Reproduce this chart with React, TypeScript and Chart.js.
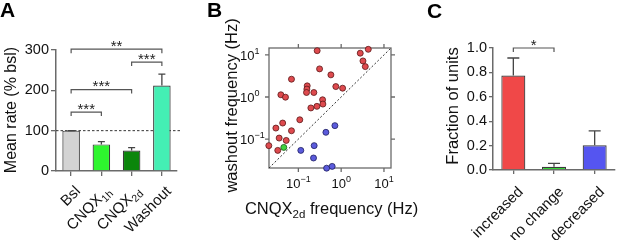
import React, { useEffect, useRef } from 'react';
import { Chart, registerables } from 'chart.js';
Chart.register(...registerables);

const FF = '"Liberation Sans", Arial, Helvetica, sans-serif';
const AXIS = '#6a6a6a';
const TXT = '#111111';

// ---------- Panel A data ----------
const rateLabels = ['Bsl', 'CNQX', 'CNQX', 'Washout'];
const rateLabelSubs = ['', '1h', '2d', ''];
const rateMeans = [100, 66, 51, 212];
const rateErrs = [0, 7, 7, 28];
const rateColors = ['#d3d3d3', '#2ef52e', '#0b860b', '#44efb4'];
const rateTicks = [0, 100, 200, 300];
const sigPairsA = [[0, 1], [0, 2], [2, 3], [0, 3]];
const sigHeightsA = [146, 202, 270, 302];
const sigStarsA = ['***', '***', '***', '**'];
const baselineRate = 100;

// ---------- Panel B data ----------
const redX = [0.275, 2.79, 4.3, 3.23, 3.66, 0.313, 0.575, 0.069, 0.161, 0.158, 0.155, 0.23, 0.75, 1.08, 0.039, 0.05, 0.368, 0.374, 0.271, 0.196, 0.108, 0.043, 0.069, 0.0298, 0.0356, 0.052, 0.0204, 0.033];
const redY = [12.6, 11.0, 13.6, 7.2, 5.28, 4.66, 3.36, 2.65, 1.84, 1.54, 1.28, 1.28, 1.77, 1.62, 1.13, 0.99, 0.86, 0.68, 0.6, 0.55, 0.288, 0.241, 0.158, 0.183, 0.106, 0.093, 0.07, 0.054];
const blueX = [0.714, 0.44, 0.234, 0.114, 0.226, 0.457, 0.616];
const blueY = [0.209, 0.145, 0.07, 0.054, 0.0356, 0.0204, 0.0225];
const greenX = [0.0457];
const greenY = [0.0636];
const freqMin = 0.0206;
const freqMax = 14.6;
const freqTicks = [0.1, 1, 10];
const freqTickExps = ['-1', '0', '1'];

// ---------- Panel C data ----------
const fracLabels = ['increased', 'no change', 'decreased'];
const fracMeans = [0.775, 0.027, 0.203];
const fracErrs = [0.143, 0.028, 0.117];
const fracColors = ['#f04848', '#36d436', '#5555f0'];
const fracTicks = [0, 0.2, 0.4, 0.6, 0.8, 1.0];
const sigPairsC = [[0, 1]];
const sigHeightsC = [1.0];
const sigStarsC = ['*'];

type Part = { t: string; size: number; dy?: number; bold?: boolean };

function setFont(ctx: CanvasRenderingContext2D, p: Part) {
  ctx.font = `${p.bold ? 'bold ' : ''}${p.size}px ${FF}`;
}
function richWidth(ctx: CanvasRenderingContext2D, parts: Part[]) {
  let w = 0;
  for (const p of parts) { setFont(ctx, p); w += ctx.measureText(p.t).width; }
  return w;
}
function drawRich(ctx: CanvasRenderingContext2D, parts: Part[], x: number, y: number, align: 'left' | 'center' | 'right') {
  const w = richWidth(ctx, parts);
  let cx = align === 'left' ? x : align === 'center' ? x - w / 2 : x - w;
  ctx.textAlign = 'left';
  for (const p of parts) {
    setFont(ctx, p);
    ctx.fillText(p.t, cx, y + (p.dy || 0));
    cx += ctx.measureText(p.t).width;
  }
}
function drawRotatedLabel(ctx: CanvasRenderingContext2D, parts: Part[], ax: number, ay: number) {
  ctx.save();
  ctx.translate(ax, ay);
  ctx.rotate(-Math.PI / 4);
  ctx.textBaseline = 'alphabetic';
  ctx.fillStyle = TXT;
  drawRich(ctx, parts, 0, 0, 'right');
  ctx.restore();
}
function drawVTitle(ctx: CanvasRenderingContext2D, text: string, size: number, cx: number, cy: number) {
  ctx.save();
  ctx.translate(cx, cy);
  ctx.rotate(-Math.PI / 2);
  ctx.textAlign = 'center';
  ctx.textBaseline = 'middle';
  ctx.fillStyle = TXT;
  ctx.font = `${size}px ${FF}`;
  ctx.fillText(text, 0, 0);
  ctx.restore();
}
function drawPanelLetter(ctx: CanvasRenderingContext2D, letter: string, x: number, y: number) {
  ctx.save();
  ctx.fillStyle = '#000';
  ctx.textAlign = 'left';
  ctx.textBaseline = 'alphabetic';
  ctx.font = `bold 21px ${FF}`;
  ctx.fillText(letter, x, y);
  ctx.restore();
}
function drawErrorBars(chart: any, means: number[], errs: number[], half: number) {
  const ctx = chart.ctx;
  const meta = chart.getDatasetMeta(0);
  const y = chart.scales.y;
  ctx.save();
  ctx.strokeStyle = '#444';
  ctx.lineWidth = 1.3;
  means.forEach((m, i) => {
    const x = meta.data[i].x;
    const y0 = y.getPixelForValue(m);
    const y1 = y.getPixelForValue(m + errs[i]);
    ctx.beginPath();
    ctx.moveTo(x, y0);
    ctx.lineTo(x, y1);
    ctx.moveTo(x - half, y1);
    ctx.lineTo(x + half, y1);
    ctx.stroke();
  });
  ctx.restore();
}
function drawBrackets(chart: any, pairs: number[][], heights: number[], stars: string[], starDy: number) {
  const ctx = chart.ctx;
  const meta = chart.getDatasetMeta(0);
  const y = chart.scales.y;
  ctx.save();
  ctx.strokeStyle = '#555';
  ctx.lineWidth = 1.2;
  pairs.forEach((p, i) => {
    const x0 = meta.data[p[0]].x;
    const x1 = meta.data[p[1]].x;
    const yy = y.getPixelForValue(heights[i]);
    ctx.beginPath();
    ctx.moveTo(x0, yy + 4);
    ctx.lineTo(x0, yy);
    ctx.lineTo(x1, yy);
    ctx.lineTo(x1, yy + 4);
    ctx.stroke();
    ctx.fillStyle = '#222';
    ctx.textAlign = 'center';
    ctx.textBaseline = 'alphabetic';
    ctx.font = `15px ${FF}`;
    ctx.fillText(stars[i], (x0 + x1) / 2, yy + starDy);
  });
  ctx.restore();
}

const axisGrid = { display: true, drawOnChartArea: false, tickLength: 5, color: AXIS, lineWidth: 1.3 };
const axisBorder = { display: true, color: AXIS, width: 1.5 };

function makeA(canvas: HTMLCanvasElement) {
  const plugin = {
    id: 'panelA',
    beforeDatasetsDraw(chart: any) {
      const ctx = chart.ctx;
      const y = chart.scales.y.getPixelForValue(baselineRate);
      ctx.save();
      ctx.strokeStyle = '#333';
      ctx.lineWidth = 1;
      ctx.setLineDash([2.5, 2]);
      ctx.beginPath();
      ctx.moveTo(chart.chartArea.left, y);
      ctx.lineTo(chart.chartArea.right + 3, y);
      ctx.stroke();
      ctx.restore();
    },
    afterDraw(chart: any) {
      const ctx = chart.ctx;
      drawErrorBars(chart, rateMeans, rateErrs, 3.5);
      drawBrackets(chart, sigPairsA, sigHeightsA, sigStarsA, 1.5);
      const meta = chart.getDatasetMeta(0);
      const bottom = chart.chartArea.bottom;
      rateLabels.forEach((l, i) => {
        const parts: Part[] = [{ t: l, size: 15 }];
        if (rateLabelSubs[i]) parts.push({ t: rateLabelSubs[i], size: 10.5, dy: 3.5 });
        drawRotatedLabel(ctx, parts, meta.data[i].x + 10, bottom + 21);
      });
      drawVTitle(ctx, 'Mean rate (% bsl)', 16, 12, 110);
      drawPanelLetter(ctx, 'A', 0, 17);
    },
  };
  return new Chart(canvas, {
    type: 'bar',
    data: {
      labels: rateLabels.map((l, i) => l + rateLabelSubs[i]),
      datasets: [{ data: rateMeans, backgroundColor: rateColors, borderColor: '#3a3a3a', borderWidth: 1.2, barPercentage: 0.58, categoryPercentage: 1 }],
    },
    options: {
      animation: false, responsive: false, maintainAspectRatio: false,
      layout: { padding: { left: 0, right: 28, top: 50, bottom: 0 } },
      plugins: { legend: { display: false }, tooltip: { enabled: false } },
      scales: {
        x: {
          grid: { ...axisGrid, offset: false }, border: axisBorder, ticks: { display: false },
          afterFit: (s: any) => { s.height = 69; },
        },
        y: {
          min: 0, max: 300,
          afterBuildTicks: (s: any) => { s.ticks = rateTicks.map((v) => ({ value: v })); },
          ticks: { font: { family: FF, size: 14.5 }, color: TXT, padding: 2 },
          grid: axisGrid, border: axisBorder,
          afterFit: (s: any) => { s.width = 56; },
        },
      },
    } as any,
    plugins: [plugin],
  });
}

function makeB(canvas: HTMLCanvasElement) {
  const plugin = {
    id: 'panelB',
    beforeDatasetsDraw(chart: any) {
      const ctx = chart.ctx;
      const a = chart.chartArea;
      const xs = chart.scales.x;
      const ys = chart.scales.y;
      ctx.save();
      ctx.strokeStyle = AXIS;
      ctx.lineWidth = 1.3;
      ctx.strokeRect(a.left, a.top, a.right - a.left, a.bottom - a.top);
      ctx.beginPath();
      freqTicks.forEach((v) => {
        const px = xs.getPixelForValue(v);
        ctx.moveTo(px, a.bottom); ctx.lineTo(px, a.bottom + 4);
        ctx.moveTo(px, a.top); ctx.lineTo(px, a.top - 4);
        const py = ys.getPixelForValue(v);
        ctx.moveTo(a.left, py); ctx.lineTo(a.left - 4, py);
        ctx.moveTo(a.right, py); ctx.lineTo(a.right + 4, py);
      });
      ctx.stroke();
      ctx.restore();
    },
    afterDraw(chart: any) {
      const ctx = chart.ctx;
      const a = chart.chartArea;
      const xs = chart.scales.x;
      const ys = chart.scales.y;
      ctx.save();
      ctx.fillStyle = TXT;
      ctx.textBaseline = 'alphabetic';
      freqTicks.forEach((v, i) => {
        const parts: Part[] = [{ t: '10', size: 13 }, { t: freqTickExps[i].replace('-', '\u2212'), size: 9, dy: -6 }];
        drawRich(ctx, parts, xs.getPixelForValue(v), a.bottom + 20, 'center');
        drawRich(ctx, parts, 35, ys.getPixelForValue(v) + 5, 'left');
      });
      ctx.restore();
      ctx.save();
      ctx.fillStyle = TXT;
      ctx.textBaseline = 'alphabetic';
      drawRich(ctx, [{ t: 'CNQX', size: 16.5 }, { t: '2d', size: 11.5, dy: 4 }, { t: ' frequency (Hz)', size: 16.5 }], 126.5, 213.5, 'center');
      ctx.restore();
      drawVTitle(ctx, 'washout frequency (Hz)', 16.5, 27, 105.5);
      drawPanelLetter(ctx, 'B', 2, 17);
    },
  };
  const pts = (xs: number[], ys: number[]) => xs.map((x, i) => ({ x, y: ys[i] }));
  return new Chart(canvas, {
    type: 'scatter',
    data: {
      datasets: [
        { type: 'line', data: [{ x: freqMin, y: freqMin }, { x: freqMax, y: freqMax }], borderColor: '#333', borderWidth: 1, borderDash: [2, 2], pointRadius: 0, order: 5 },
        { data: pts(redX, redY), backgroundColor: '#de4a4e', borderColor: '#5c1818', borderWidth: 0.8, pointRadius: 3, order: 1, clip: false },
        { data: pts(blueX, blueY), backgroundColor: '#5b5bdc', borderColor: '#1e1e60', borderWidth: 0.8, pointRadius: 3, order: 1, clip: false },
        { data: pts(greenX, greenY), backgroundColor: '#3fd23f', borderColor: '#1a5a1a', borderWidth: 0.8, pointRadius: 3, order: 1, clip: false },
      ],
    },
    options: {
      animation: false, responsive: false, maintainAspectRatio: false,
      layout: { padding: { left: 0, right: 29, top: 48, bottom: 0 } },
      plugins: { legend: { display: false }, tooltip: { enabled: false } },
      scales: {
        x: {
          type: 'logarithmic', min: freqMin, max: freqMax,
          afterBuildTicks: (s: any) => { s.ticks = freqTicks.map((v) => ({ value: v })); },
          grid: { display: false }, border: { display: false }, ticks: { display: false },
          afterFit: (s: any) => { s.height = 72; },
        },
        y: {
          type: 'logarithmic', min: freqMin, max: freqMax,
          afterBuildTicks: (s: any) => { s.ticks = freqTicks.map((v) => ({ value: v })); },
          grid: { display: false }, border: { display: false }, ticks: { display: false },
          afterFit: (s: any) => { s.width = 64; },
        },
      },
    } as any,
    plugins: [plugin],
  });
}

function makeC(canvas: HTMLCanvasElement) {
  const plugin = {
    id: 'panelC',
    afterDraw(chart: any) {
      const ctx = chart.ctx;
      drawErrorBars(chart, fracMeans, fracErrs, 6);
      drawBrackets(chart, sigPairsC, sigHeightsC, sigStarsC, 2);
      const meta = chart.getDatasetMeta(0);
      const bottom = chart.chartArea.bottom;
      fracLabels.forEach((l, i) => {
        drawRotatedLabel(ctx, [{ t: l, size: 15 }], meta.data[i].x + 10.5, bottom + 22.5);
      });
      drawVTitle(ctx, 'Fraction of units', 16.5, 33, 106);
      drawPanelLetter(ctx, 'C', 7, 18);
    },
  };
  return new Chart(canvas, {
    type: 'bar',
    data: {
      labels: fracLabels,
      datasets: [{ data: fracMeans, backgroundColor: fracColors, borderColor: '#3a3a3a', borderWidth: 1.2, barPercentage: 0.59, categoryPercentage: 1 }],
    },
    options: {
      animation: false, responsive: false, maintainAspectRatio: false,
      layout: { padding: { left: 0, right: 2, top: 48, bottom: 0 } },
      plugins: { legend: { display: false }, tooltip: { enabled: false } },
      scales: {
        x: {
          grid: { ...axisGrid, offset: false, tickLength: 4 }, border: axisBorder, ticks: { display: false },
          afterFit: (s: any) => { s.height = 70; },
        },
        y: {
          min: 0, max: 1,
          afterBuildTicks: (s: any) => { s.ticks = fracTicks.map((v) => ({ value: v })); },
          ticks: { font: { family: FF, size: 14.5 }, color: TXT, padding: 2, callback: (v: any) => Number(v).toFixed(1) },
          grid: { ...axisGrid, tickLength: 4 }, border: axisBorder,
          afterFit: (s: any) => { s.width = 73; },
        },
      },
    } as any,
    plugins: [plugin],
  });
}

export default function App() {
  const refA = useRef<HTMLCanvasElement>(null);
  const refB = useRef<HTMLCanvasElement>(null);
  const refC = useRef<HTMLCanvasElement>(null);
  useEffect(() => {
    const charts = [makeA(refA.current!), makeB(refB.current!), makeC(refC.current!)];
    return () => charts.forEach((c) => c.destroy());
  }, []);
  const cs = (left: number, width: number): React.CSSProperties => ({ position: 'absolute', left, top: 0, width, height: 240 });
  return (
    <div style={{ position: 'fixed', left: 0, top: 0, width: 617, height: 240, background: '#fff', overflow: 'hidden' }}>
      <canvas ref={refA} width={205} height={240} style={cs(0, 205)} />
      <canvas ref={refB} width={215} height={240} style={cs(205, 215)} />
      <canvas ref={refC} width={197} height={240} style={cs(420, 197)} />
    </div>
  );
}
